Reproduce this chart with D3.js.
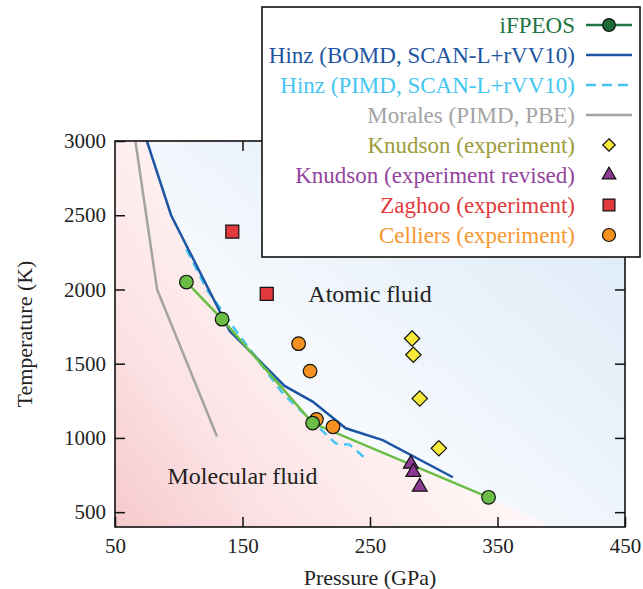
<!DOCTYPE html>
<html>
<head>
<meta charset="utf-8">
<script src="https://cdn.jsdelivr.net/npm/d3@7"></script>
<style>
  body { margin: 0; background: #fff; }
</style>
</head>
<body>
<div id="chart"></div>
<script>
// data (pressure in GPa, temperature in K)
const ifpeos = [[106, 2050], [134, 1800], [205, 1100], [343, 600]];
const hinzBomd = [[75, 3000], [94, 2500], [140, 1720], [183, 1350], [205, 1245], [231, 1065], [260, 985], [315, 735]];
const hinzPimd = [[106, 2270], [122, 2000], [145, 1720], [182, 1295], [205, 1110], [223, 963], [234, 955], [248, 850]];
const morales = [[66, 3000], [83, 2000], [130, 1010]];
const knudson = [[283, 1670], [284, 1560], [289, 1265], [304, 930]];
const knudsonRevised = [[282, 825], [284, 770], [289, 670]];
const zaghoo = [[142, 2390], [169, 1970]];
const celliers = [[194, 1635], [203, 1450], [208, 1125], [221, 1075]];
// line between the two shaded regions
const phaseBoundary = [[75, 3000], [94, 2500], [140, 1720], [183, 1350], [205, 1100], [343, 600], [393, 400]];

const xTicks = [50, 150, 250, 350, 450];
const yTicks = [500, 1000, 1500, 2000, 2500, 3000];

const legendItems = [
  { name: "iFPEOS", color: "#1e7440", kind: "linecircle" },
  { name: "Hinz (BOMD, SCAN-L+rVV10)", color: "#1d55a3", kind: "line" },
  { name: "Hinz (PIMD, SCAN-L+rVV10)", color: "#45c6f2", kind: "dash" },
  { name: "Morales (PIMD, PBE)", color: "#a3a3a3", kind: "line" },
  { name: "Knudson (experiment)", color: "#9c9c3c", kind: "diamond" },
  { name: "Knudson (experiment revised)", color: "#9444a0", kind: "triangle" },
  { name: "Zaghoo (experiment)", color: "#e2393c", kind: "square" },
  { name: "Celliers (experiment)", color: "#f59831", kind: "circle" }
];

const FONT = "'Liberation Serif', 'Times New Roman', serif";
const W = 643, H = 589;
const svg = d3.select("#chart").append("svg")
  .attr("width", W).attr("height", H)
  .attr("font-family", FONT);

const x = d3.scaleLinear().domain([50, 450]).range([115, 625]);
const y = d3.scaleLinear().domain([400, 3000]).range([527, 141]);

const defs = svg.append("defs");
defs.append("clipPath").attr("id", "plotClip")
  .append("rect")
  .attr("x", x(50)).attr("y", y(3000))
  .attr("width", x(450) - x(50)).attr("height", y(400) - y(3000));

const pinkGrad = defs.append("linearGradient").attr("id", "pinkGrad")
  .attr("gradientUnits", "userSpaceOnUse")
  .attr("x1", x(50)).attr("y1", y(400)).attr("x2", 380).attr("y2", 320);
pinkGrad.append("stop").attr("offset", 0).attr("stop-color", "#f6c9cc");
pinkGrad.append("stop").attr("offset", 0.4).attr("stop-color", "#fce3e5");
pinkGrad.append("stop").attr("offset", 1).attr("stop-color", "#fff8f8");

const blueGrad = defs.append("linearGradient").attr("id", "blueGrad")
  .attr("gradientUnits", "userSpaceOnUse")
  .attr("x1", 290).attr("y1", y(400)).attr("x2", x(450)).attr("y2", y(3000));
blueGrad.append("stop").attr("offset", 0).attr("stop-color", "#ffffff");
blueGrad.append("stop").attr("offset", 1).attr("stop-color", "#d9e8f6");

const plot = svg.append("g").attr("clip-path", "url(#plotClip)");

// background regions
plot.append("rect")
  .attr("x", x(50)).attr("y", y(3000))
  .attr("width", x(450) - x(50)).attr("height", y(400) - y(3000))
  .attr("fill", "url(#blueGrad)");

const pinkPoly = [[50, 400], [50, 3000]].concat(phaseBoundary);
plot.append("path")
  .attr("d", d3.line().x(d => x(d[0])).y(d => y(d[1]))(pinkPoly) + "Z")
  .attr("fill", "url(#pinkGrad)");

const line = d3.line().x(d => x(d[0])).y(d => y(d[1]));

plot.append("path").datum(morales)
  .attr("d", line).attr("fill", "none")
  .attr("stroke", "#a3a3a3").attr("stroke-width", 2.5);

plot.append("path").datum(hinzPimd)
  .attr("d", line).attr("fill", "none")
  .attr("stroke", "#45c6f2").attr("stroke-width", 2.5)
  .attr("stroke-dasharray", "9,6");

plot.append("path").datum(hinzBomd)
  .attr("d", line).attr("fill", "none")
  .attr("stroke", "#1d55a3").attr("stroke-width", 2.5);

plot.append("path").datum(ifpeos)
  .attr("d", line).attr("fill", "none")
  .attr("stroke", "#6abd45").attr("stroke-width", 2.5);

// region labels
svg.append("text").attr("x", x(250)).attr("y", y(1970))
  .attr("text-anchor", "middle").attr("dy", "0.35em")
  .attr("font-size", 24).attr("fill", "#222").text("Atomic fluid");
svg.append("text").attr("x", x(150)).attr("y", y(745))
  .attr("text-anchor", "middle").attr("dy", "0.35em")
  .attr("font-size", 24).attr("fill", "#222").text("Molecular fluid");

// markers
const sym = (type, size) => d3.symbol().type(type).size(size)();

plot.selectAll("path.zaghoo").data(zaghoo).join("path")
  .attr("class", "zaghoo")
  .attr("transform", d => `translate(${x(d[0])},${y(d[1])})`)
  .attr("d", sym(d3.symbolSquare, 170))
  .attr("fill", "#e2393c").attr("stroke", "#111").attr("stroke-width", 1.2);

plot.selectAll("circle.celliers").data(celliers).join("circle")
  .attr("class", "celliers")
  .attr("cx", d => x(d[0])).attr("cy", d => y(d[1])).attr("r", 6.8)
  .attr("fill", "#f39220").attr("stroke", "#111").attr("stroke-width", 1.2);

plot.selectAll("circle.ifpeos").data(ifpeos).join("circle")
  .attr("class", "ifpeos")
  .attr("cx", d => x(d[0])).attr("cy", d => y(d[1])).attr("r", 6.8)
  .attr("fill", "#6abd45").attr("stroke", "#111").attr("stroke-width", 1.2);

plot.selectAll("path.knudson").data(knudson).join("path")
  .attr("class", "knudson")
  .attr("transform", d => `translate(${x(d[0])},${y(d[1])})`)
  .attr("d", sym(d3.symbolDiamond2, 150))
  .attr("fill", "#f5e93a").attr("stroke", "#111").attr("stroke-width", 1.2);

plot.selectAll("path.revised").data(knudsonRevised).join("path")
  .attr("class", "revised")
  .attr("transform", d => `translate(${x(d[0])},${y(d[1])})`)
  .attr("d", sym(d3.symbolTriangle, 95))
  .attr("fill", "#8c3a93").attr("stroke", "#111").attr("stroke-width", 1.2);

// axes with inward ticks on all four sides
const axisStyle = g => {
  g.attr("font-family", FONT);
  g.select(".domain").remove();
  g.selectAll(".tick line").attr("stroke", "#111").attr("stroke-width", 1.5);
  g.selectAll("text").attr("font-size", 21).attr("fill", "#222");
};

svg.append("g").attr("transform", `translate(0,${y(400)})`)
  .call(d3.axisBottom(x).tickValues(xTicks).tickFormat(d3.format("d"))
    .tickSizeInner(-10).tickSizeOuter(0).tickPadding(11))
  .call(axisStyle);
svg.append("g").attr("transform", `translate(0,${y(3000)})`)
  .call(d3.axisTop(x).tickValues(xTicks.slice(1, -1)).tickSizeInner(-10).tickSizeOuter(0).tickFormat(""))
  .call(axisStyle);
svg.append("g").attr("transform", `translate(${x(50)},0)`)
  .call(d3.axisLeft(y).tickValues(yTicks).tickFormat(d3.format("d"))
    .tickSizeInner(-10).tickSizeOuter(0).tickPadding(9))
  .call(axisStyle);
svg.append("g").attr("transform", `translate(${x(450)},0)`)
  .call(d3.axisRight(y).tickValues(yTicks).tickSizeInner(-10).tickSizeOuter(0).tickFormat(""))
  .call(axisStyle);

svg.append("rect")
  .attr("x", x(50)).attr("y", y(3000))
  .attr("width", x(450) - x(50)).attr("height", y(400) - y(3000))
  .attr("fill", "none").attr("stroke", "#111").attr("stroke-width", 1.6);

// axis titles
svg.append("text").attr("x", (x(50) + x(450)) / 2).attr("y", 585)
  .attr("text-anchor", "middle").attr("font-size", 22).attr("fill", "#222")
  .text("Pressure (GPa)");
svg.append("text")
  .attr("transform", `translate(32,${(y(400) + y(3000)) / 2}) rotate(-90)`)
  .attr("text-anchor", "middle").attr("font-size", 22).attr("fill", "#222")
  .text("Temperature (K)");

// legend
const legend = svg.append("g");
legend.append("rect")
  .attr("x", 262).attr("y", 7).attr("width", 378).attr("height", 250)
  .attr("fill", "#fff").attr("stroke", "#111").attr("stroke-width", 1.6);

const rows = legend.selectAll("g.row").data(legendItems).join("g")
  .attr("class", "row")
  .attr("transform", (d, i) => `translate(0,${25 + i * 30})`);

rows.append("text")
  .attr("x", 575).attr("dy", "0.35em").attr("text-anchor", "end")
  .attr("font-size", 23).attr("fill", d => d.color)
  .text(d => d.name);

rows.filter(d => ["line", "dash", "linecircle"].includes(d.kind))
  .append("line")
  .attr("x1", 586).attr("x2", 632)
  .attr("stroke", d => d.color).attr("stroke-width", 2.5)
  .attr("stroke-dasharray", d => d.kind === "dash" ? "10,6" : null);

rows.filter(d => d.kind === "linecircle").append("circle")
  .attr("cx", 609).attr("r", 6.3)
  .attr("fill", "#1d6b37").attr("stroke", "#111").attr("stroke-width", 1.2);

rows.filter(d => d.kind === "diamond").append("path")
  .attr("transform", "translate(609,0)")
  .attr("d", sym(d3.symbolDiamond2, 100))
  .attr("fill", "#f5e93a").attr("stroke", "#111").attr("stroke-width", 1.2);
rows.filter(d => d.kind === "triangle").append("path")
  .attr("transform", "translate(609,0)")
  .attr("d", sym(d3.symbolTriangle, 80))
  .attr("fill", "#8c3a93").attr("stroke", "#111").attr("stroke-width", 1.2);
rows.filter(d => d.kind === "square").append("path")
  .attr("transform", "translate(609,0)")
  .attr("d", sym(d3.symbolSquare, 140))
  .attr("fill", "#e2393c").attr("stroke", "#111").attr("stroke-width", 1.2);
rows.filter(d => d.kind === "circle").append("circle")
  .attr("cx", 609).attr("r", 6.5)
  .attr("fill", "#f39220").attr("stroke", "#111").attr("stroke-width", 1.2);
</script>
</body>
</html>
